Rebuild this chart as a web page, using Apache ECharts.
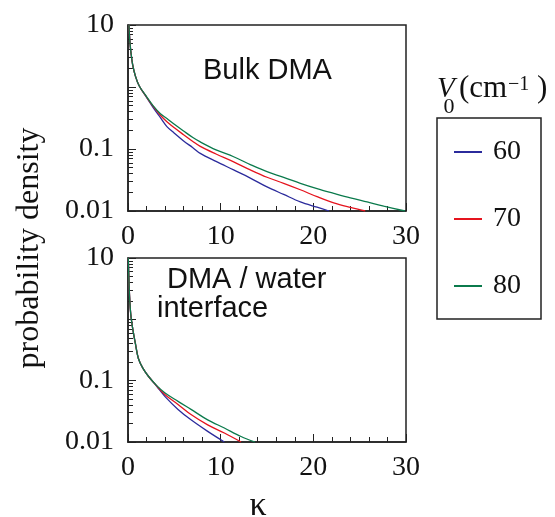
<!DOCTYPE html>
<html>
<head>
<meta charset="utf-8">
<script src="https://cdn.jsdelivr.net/npm/echarts@6/dist/echarts.min.js"></script>
<style>
  html, body { margin: 0; padding: 0; background: #fff; }
  #chart { width: 555px; height: 517px; }
</style>
</head>
<body>
<div id="chart"></div>
<script>
// Probability density of kappa for three V0 values, bulk and interface.
const seriesNames = ['60', '70', '80'];
const seriesColors = ['#2b2b9c', '#e5141e', '#0b7a4c'];

// Bulk DMA: [kappa, density]
const bulk60 = [[0.1, 10], [0.2, 5.5], [0.3, 3.8], [0.5, 2.3], [0.8, 1.5], [1.2, 1.05], [2.0, 0.68], [2.7, 0.47], [3.5, 0.32], [4.2, 0.23], [5, 0.18], [6, 0.135], [7, 0.105], [7.8, 0.085], [9.5, 0.063], [11.4, 0.046], [13.2, 0.034], [15, 0.0245], [16.8, 0.0185], [18.6, 0.014], [20.4, 0.0115], [21.7, 0.01]];
const bulk70 = [[0.1, 10], [0.2, 5.5], [0.3, 3.8], [0.5, 2.3], [0.8, 1.5], [1.2, 1.05], [2.0, 0.69], [2.7, 0.49], [3.5, 0.35], [4.2, 0.275], [5, 0.22], [6, 0.17], [7, 0.132], [7.8, 0.11], [9.5, 0.083], [11.4, 0.062], [13.2, 0.046], [15, 0.035], [16.8, 0.028], [18.6, 0.022], [20.4, 0.017], [22.2, 0.0135], [24, 0.0114], [25.6, 0.01]];
const bulk80 = [[0.1, 10], [0.2, 5.5], [0.3, 3.8], [0.5, 2.3], [0.8, 1.5], [1.2, 1.05], [2.0, 0.7], [2.7, 0.5], [3.5, 0.37], [4.2, 0.31], [5, 0.25], [6, 0.195], [7, 0.153], [7.8, 0.13], [9.5, 0.097], [11.4, 0.075], [13.2, 0.056], [15, 0.043], [16.8, 0.035], [18.6, 0.028], [20.4, 0.023], [22.2, 0.0193], [24, 0.0163], [25.8, 0.014], [27.6, 0.012], [29.9, 0.01]];

// DMA / water interface: [kappa, density]
const iface60 = [[0.03, 10], [0.1, 4.5], [0.18, 2.2], [0.3, 1.2], [0.5, 0.72], [0.8, 0.4], [1.12, 0.23], [1.6, 0.16], [2.2, 0.118], [3.1, 0.081], [4.0, 0.055], [5.4, 0.034], [6.8, 0.023], [8.6, 0.0149], [10.4, 0.01]];
const iface70 = [[0.03, 10], [0.1, 4.5], [0.18, 2.2], [0.3, 1.2], [0.5, 0.72], [0.8, 0.4], [1.12, 0.23], [1.6, 0.16], [2.2, 0.118], [3.1, 0.082], [4.0, 0.059], [5.4, 0.041], [6.8, 0.028], [8.6, 0.019], [10.4, 0.014], [12.2, 0.01]];
const iface80 = [[0.03, 10], [0.1, 4.5], [0.18, 2.2], [0.3, 1.2], [0.5, 0.72], [0.8, 0.4], [1.12, 0.23], [1.6, 0.16], [2.2, 0.118], [3.1, 0.083], [4.0, 0.063], [5.4, 0.046], [6.8, 0.034], [8.6, 0.023], [10.4, 0.0169], [12.2, 0.0123], [13.7, 0.01]];

const xTicks = [0, 10, 20, 30];
const yMajorTicks = [0.01, 0.1, 1, 10];
const yLabelValues = [0.01, 0.1, 10];
const yMinorTicks = [0.02, 0.03, 0.04, 0.05, 0.06, 0.07, 0.08, 0.09,
                     0.2, 0.3, 0.4, 0.5, 0.6, 0.7, 0.8, 0.9,
                     2, 3, 4, 5, 6, 7, 8, 9];

const serif = 'Liberation Serif';
const ink = '#222';

const grids = [
  { left: 128, top: 25, width: 278, height: 186, show: true, borderColor: ink, borderWidth: 1.5, backgroundColor: 'transparent' },
  { left: 128, top: 258, width: 278, height: 184, show: true, borderColor: ink, borderWidth: 1.5, backgroundColor: 'transparent' }
];

function xAxisFor(g) {
  return {
    type: 'value', gridIndex: g, min: xTicks[0], max: xTicks[xTicks.length - 1], interval: 10,
    axisLine: { show: true, onZero: false, lineStyle: { color: ink, width: 1.5 } },
    axisTick: { show: true, inside: true, length: 8, lineStyle: { color: ink, width: 1 } },
    minorTick: { show: true, splitNumber: 5, length: 5, lineStyle: { color: ink, width: 1 } },
    splitLine: { show: false },
    axisLabel: { color: '#111', fontFamily: serif, fontSize: 28, margin: 12 }
  };
}
function yMajorAxisFor(g) {
  return {
    type: 'log', logBase: 10, gridIndex: g, min: 0.01, max: 10,
    axisLine: { show: true, onZero: false, lineStyle: { color: ink, width: 1.5 } },
    axisTick: { show: true, inside: true, length: 8, customValues: yMajorTicks, lineStyle: { color: ink, width: 1 } },
    splitLine: { show: false },
    axisLabel: {
      color: '#111', fontFamily: serif, fontSize: 28, margin: 14,
      customValues: yLabelValues,
      formatter: v => (v >= 1 ? String(Math.round(v)) : String(+v.toPrecision(1)))
    }
  };
}
function yMinorAxisFor(g) {
  return {
    type: 'log', logBase: 10, gridIndex: g, min: 0.01, max: 10, position: 'left',
    axisLine: { show: false },
    axisTick: { show: true, inside: true, length: 5, customValues: yMinorTicks, lineStyle: { color: ink, width: 1 } },
    splitLine: { show: false },
    axisLabel: { show: false }
  };
}

function lineSeries(name, data, g, i) {
  return {
    name: name, type: 'line', data: data,
    xAxisIndex: g, yAxisIndex: g * 2,
    symbol: 'none', smooth: 0.35, clip: true,
    lineStyle: { color: seriesColors[i], width: 1.3 },
    itemStyle: { color: seriesColors[i] },
    emphasis: { disabled: true }, silent: true
  };
}

// serif text positioned by its baseline
function serifText(x, baseline, text, size, extra) {
  return {
    type: 'text', x: x, y: baseline - 0.33 * size,
    style: Object.assign({ text: text, font: size + 'px "Liberation Serif"', fill: '#111', verticalAlign: 'middle' }, extra || {})
  };
}

const option = {
  animation: false,
  backgroundColor: '#fff',
  grid: grids,
  xAxis: [xAxisFor(0), xAxisFor(1)],
  yAxis: [yMajorAxisFor(0), yMinorAxisFor(0), yMajorAxisFor(1), yMinorAxisFor(1)],
  legend: {
    data: seriesNames,
    orient: 'vertical', left: 437, top: 118,
    padding: [20, 20, 19, 17],
    icon: 'rect',
    itemGap: 39, itemWidth: 28, itemHeight: 2,
    borderColor: ink, borderWidth: 1.5, borderRadius: 0,
    textStyle: { fontFamily: serif, fontSize: 28, lineHeight: 28, color: '#111', padding: [0, 0, 0, 6] },
    selectedMode: false
  },
  series: [
    lineSeries(seriesNames[0], bulk60, 0, 0),
    lineSeries(seriesNames[1], bulk70, 0, 1),
    lineSeries(seriesNames[2], bulk80, 0, 2),
    lineSeries(seriesNames[0], iface60, 1, 0),
    lineSeries(seriesNames[1], iface70, 1, 1),
    lineSeries(seriesNames[2], iface80, 1, 2)
  ],
  graphic: [
    { type: 'text', left: 203, top: 56, style: { text: 'Bulk DMA', font: '29px "Liberation Sans"', fill: '#111' } },
    { type: 'text', left: 167, top: 265, style: { text: 'DMA / water', font: '29px "Liberation Sans"', fill: '#111' } },
    { type: 'text', left: 157, top: 294, style: { text: 'interface', font: '29px "Liberation Sans"', fill: '#111' } },
    { type: 'text', x: 30, y: 248, rotation: Math.PI / 2, style: { text: 'probability density', font: '32px "Liberation Serif"', fill: '#111', align: 'center', verticalAlign: 'middle' } },
    { type: 'text', x: 258, y: 506, style: { text: 'κ', font: '34px "Liberation Serif"', fill: '#111', align: 'center', verticalAlign: 'middle' } },
    // legend title: V0 (cm^-1)
    serifText(437, 99, 'V', 29, { font: 'italic 29px "Liberation Serif"' }),
    serifText(449, 114, '0', 22, { align: 'center' }),
    serifText(459, 99, '(cm', 31),
    serifText(508, 91, '−1', 20),
    serifText(537, 99, ')', 31)
  ]
};

const chart = echarts.init(document.getElementById('chart'), null, { renderer: 'canvas' });
chart.setOption(option);
</script>
</body>
</html>
